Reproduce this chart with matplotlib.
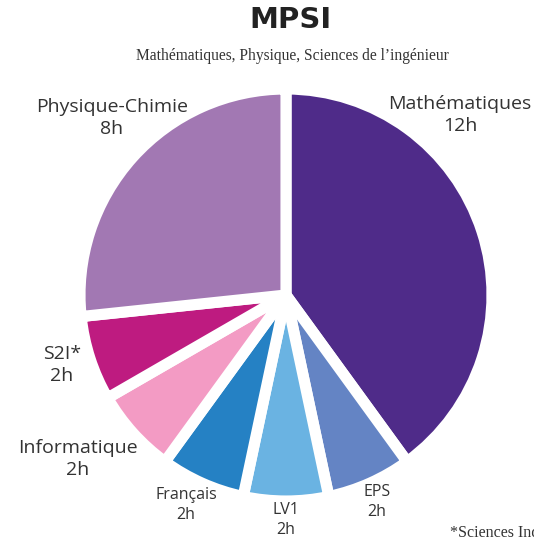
import matplotlib.pyplot as plt

# données
matieres = ["Mathématiques", "EPS", "LV1", "Français", "Informatique", "S2I*", "Physique-Chimie"]
heures = [12, 2, 2, 2, 2, 2, 8]
couleurs = ["#4f2b89", "#6484c4", "#6ab3e2", "#2581c4", "#f39bc4", "#be1b80", "#a278b3"]

# positions des étiquettes (pixels image)
pos_labels = [(460, 115), (377, 502), (286, 520), (186, 505), (78, 459), (62, 365), (112, 118)]
taille_labels = [14, 11.5, 11.5, 11.5, 14, 14, 14]

W, H = 534, 545
fig = plt.figure(figsize=(W / 100, H / 100), dpi=100)
ax = fig.add_axes([0, 0, 1, 1])
ax.set_aspect('equal')
ax.axis('off')

ax.pie(heures, colors=couleurs, startangle=90, counterclock=False,
       center=(286, H - 295), radius=206,
       wedgeprops=dict(edgecolor='white', linewidth=8, joinstyle='round'))
ax.set_xlim(0, W)
ax.set_ylim(0, H)

for nom, h, (x, y), fs in zip(matieres, heures, pos_labels, taille_labels):
    ax.text(x, H - y, f"{nom}\n{h}h", ha='center', va='center', fontsize=fs,
            family='Open Sans', color='#333333', linespacing=1.35)

fig.text(290 / W, 1 - 20 / H, "MPSI", ha='center', va='center', fontsize=21,
         fontweight='black', family='DejaVu Sans', color='#222222')
fig.text(292 / W, 1 - 56 / H, "Mathématiques, Physique, Sciences de l’ingénieur",
         ha='center', va='center', fontsize=11.2, family='Liberation Serif', color='#333333')
fig.text(450 / W, 1 - 533 / H, "*Sciences Industrielles de l’ingénieur", ha='left', va='center',
         fontsize=11.5, family='Liberation Serif', color='#333333')

fig.savefig("out.png", dpi=100)
